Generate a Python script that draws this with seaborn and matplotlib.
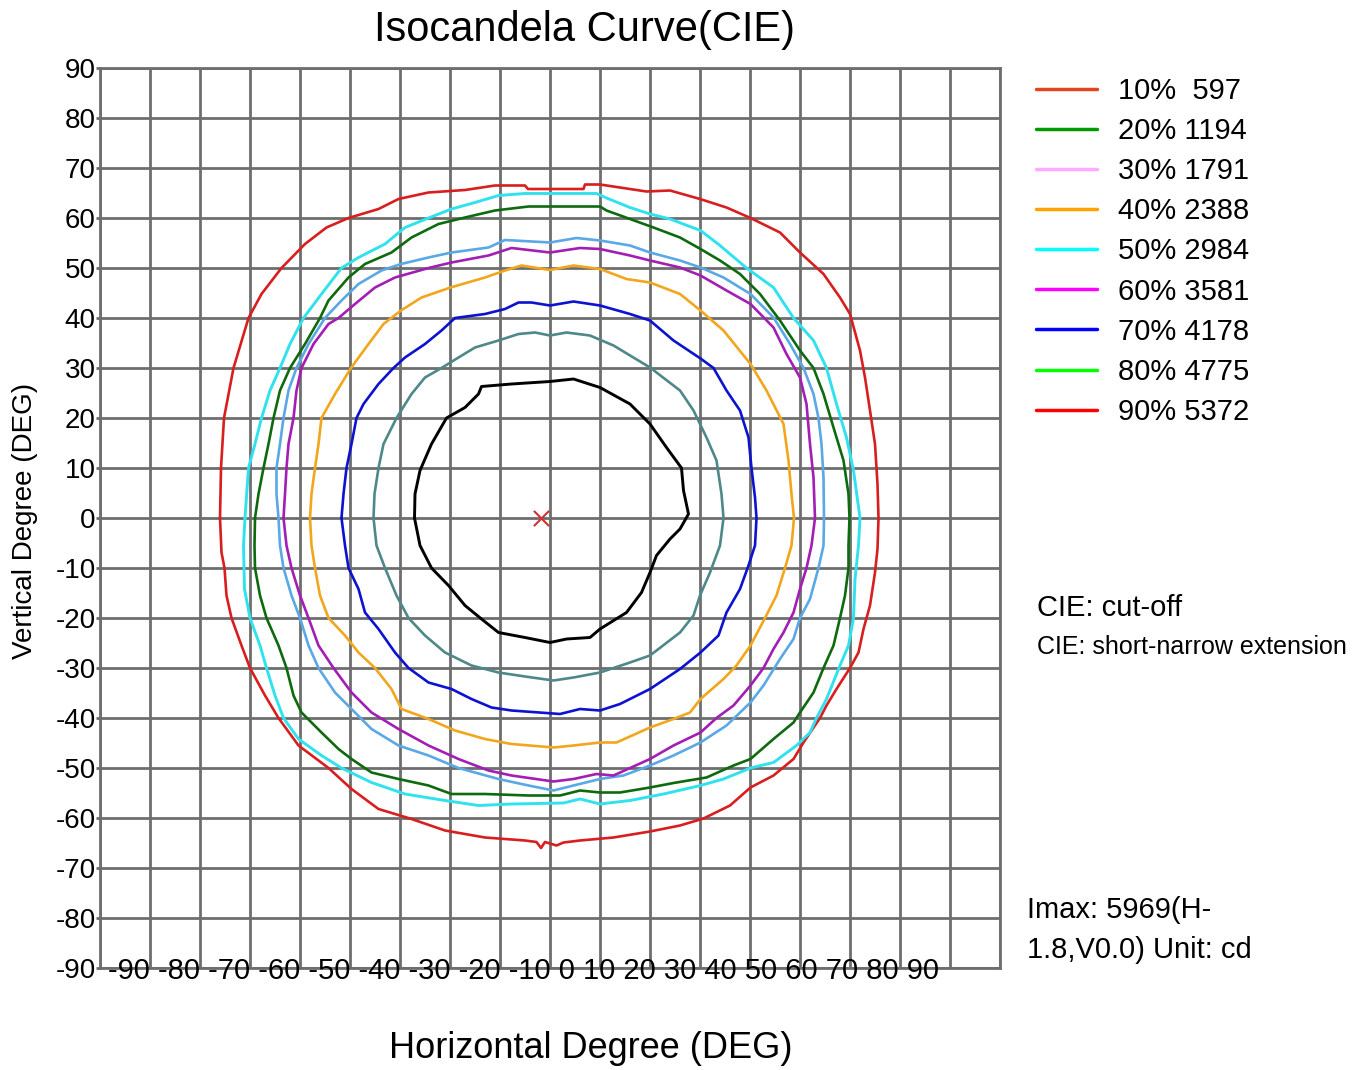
import numpy as np
import seaborn as sns
import matplotlib.pyplot as plt
from matplotlib.lines import Line2D

# --- data (degrees), traced clockwise from the left side ---
red_x = [-66, -65.8, -65.2, -63.3, -60.3, -57.7, -53.7, -49, -44.7, -40.3, -34.3, -30.3, -24.3, -17, -11, -5, -4.4,
         0, 6.7, 7, 10, 19.3, 24, 30, 35.3, 40.1, 46, 50, 54.7, 58, 60, 62, 63, 64, 65, 65.5, 65.7,
         65.5, 65, 64, 62.7, 61.7, 60, 57.3, 55.3, 54, 50.7, 48.7, 44.7, 40.1, 36, 30.7, 26, 20, 12.7, 6, 2.7, 1.3,
         -1, -1.8, -2.7, -5, -13, -21, -27.7, -34.3, -39.7, -44.3, -50.3, -54.3, -57, -60, -61.7, -63.7, -64.7,
         -65.1, -65.7]
red_y = [0, 10, 20, 30, 40, 44.8, 50, 54.8, 58.1, 60, 61.8, 63.8, 65.1, 65.6, 66.5, 66.5, 65.8,
         65.8, 65.8, 66.7, 66.7, 65.3, 65.5, 63.8, 62.1, 60, 57.1, 53.1, 48.8, 44.1, 40.8, 33.5, 28.1, 21.5, 14.8,
         6.8, 0,
         -6.2, -10.9, -17.5, -22.2, -26.9, -30, -34.2, -37.5, -40, -44.9, -48.2, -51.5, -53.9, -57.5, -60.1, -61.5,
         -62.7, -63.9, -64.5, -64.9, -65.5,
         -64.8, -66, -64.8, -64.5, -63.9, -62.5, -60.2, -58.2, -54.2, -50, -45.5, -40, -35.5, -30, -25.5, -20,
         -15.5, -10, -6.9]

cyan_x = [-61, -60.3, -59, -57.7, -56, -54, -52, -49.3, -45.7, -41.7, -38.3, -33, -29, -24.3, -19.7, -15, -10.3, -5,
          0, 9.3, 11.3, 16, 20, 24, 30.1, 34, 39.3, 44.7, 48.7, 52.7, 55.3, 57.3, 59.3, 60.7, 62,
          61.7, 61, 60.7, 59.7, 58, 55.3, 53.3, 52, 49.3, 44.7, 40.1, 34.7, 30.1, 22.7, 16, 10, 6, 2.7,
          -7.7, -14.3, -21, -29, -35.7, -41.7, -45.7, -50.3, -53.3, -55, -56.7, -58, -60, -61.1, -61.3]
cyan_y = [0, 10, 14.8, 20, 25.5, 30, 34.8, 40, 44.8, 50, 52.1, 54.8, 58.1, 60, 61.8, 63.1, 64.5, 64.9,
          64.9, 64.9, 64, 62.1, 60.8, 59.8, 57.5, 54.5, 50, 46.1, 40, 35.5, 30, 22.8, 16.1, 9.5, 0,
          -5.5, -12.2, -20, -25.5, -29.5, -36.2, -40, -42.9, -45.5, -48.9, -50, -52.2, -53.5, -55.2, -56.5, -57.2,
          -56.2, -57,
          -57.2, -57.5, -56.5, -55.2, -52.9, -50, -47.5, -44.2, -40, -35.5, -30, -25.5, -20, -14.2, -5.5]

green_x = [-59, -58.3, -57.3, -56.3, -55.3, -54, -52, -49, -46, -44.3, -40.3, -37, -31.7, -27.7, -22.3, -17, -11, -4.3,
           0, 10, 11.3, 16, 20.7, 26, 30.1, 34, 38, 42, 46, 50, 52.7, 54.7, 56.7, 58.7, 59.7, 59.9,
           59.7, 59.7, 59, 58, 56.7, 54.7, 52.7, 50, 48.7, 44.7, 40.1, 36.7, 31.3, 24.7, 20, 14, 10, 6, 2,
           -4.3, -13, -19.7, -24.3, -30.3, -35.7, -39.7, -42.3, -45.7, -49.7, -51.3, -52.7, -54.3, -56.7, -58, -59,
           -59.1]
green_y = [0, 4.8, 10, 14.8, 20, 25.5, 30, 34.8, 40, 43.5, 48.1, 50.8, 53.1, 56.1, 58.8, 60.1, 61.5, 62.3,
           62.3, 62.3, 61.5, 59.8, 58.1, 56.1, 53.8, 51.5, 48.8, 44.8, 39.5, 33.5, 30, 24.8, 18.1, 11.5, 4.8, 0,
           -5.5, -10, -15.5, -20, -25.5, -30, -34.9, -38.9, -40.9, -44.2, -48.2, -49.5, -51.9, -53, -53.9, -54.9,
           -54.9, -54.5, -55.5,
           -55.5, -55.2, -55.2, -53.5, -52.2, -50.9, -48.2, -46.2, -42.9, -38.9, -35.5, -30, -25.5, -20, -15.5, -10,
           -5.5]

steel_x = [-54.3, -54.7, -54.7, -54, -53.3, -52.3, -50.7, -48.3, -45, -41.7, -38.3, -33.7, -29.8, -24.3, -19.7, -12.3,
           -9, 0, 5.3, 10, 16, 20, 26, 30.1, 34.7, 40.1, 44.7, 48, 50.7, 52.7, 53.7, 54.3, 54.7, 54.8,
           54.7, 53.7, 52, 50, 48.7, 46, 42.7, 40.1, 35.3, 30.1, 24.7, 20, 14.7, 10, 4.7, 0.7,
           -4.3, -10.3, -18.3, -24.3, -30.3, -35.7, -39, -43, -46.3, -48.3, -50, -51.7, -53.3, -54]
steel_y = [0, 4.8, 10, 14.8, 20, 25.5, 30, 34.8, 40, 43.5, 46.8, 49.5, 50.8, 52.1, 53.1, 54.1,
           55.6, 55.1, 56, 55.5, 54.5, 53.1, 51.5, 50.1, 48.1, 44.8, 40.1, 34.8, 30, 24.8, 20, 14.8, 8.1, 0,
           -5.5, -10, -16.2, -20, -24.2, -28.2, -33.5, -36.9, -41.5, -44.9, -47.5, -49.5, -51.5, -52.2, -53.5, -54.5,
           -53.5, -52.2, -50, -47.5, -45.5, -42.2, -38.9, -34.9, -30, -25.5, -20, -15.5, -10, -5.5]

purple_x = [-53.3, -53, -52.7, -52.3, -51.3, -50.7, -49.7, -47.3, -44.3, -42.3, -39, -35, -31, -24.3, -19.7, -12.3,
            -7.7, 0, 6, 10, 16, 20, 26, 30.1, 35.3, 40.1, 44.7, 47.3, 50, 51.3, 52, 52.7, 53,
            52.3, 51.3, 50, 48.7, 46.7, 44.7, 42.7, 40.1, 36.7, 33.3, 30.1, 24.7, 20, 12.7, 9.3, 4.7, 0.7,
            -7.7, -12.3, -18.3, -24.3, -30.3, -35.7, -39.7, -43.3, -46.3, -48.3, -50, -51.7, -52.7]
purple_y = [0, 4.8, 10, 14.8, 20, 25.5, 30, 34.8, 38.8, 40, 42.8, 46.1, 48.1, 50, 51.1, 52.5,
            54, 53.1, 54, 53.8, 52.5, 51.5, 50.1, 48.5, 45.5, 42.8, 38.1, 32.8, 28.1, 22.8, 14.8, 8.1, 0,
            -5.5, -10, -14.2, -18.9, -22.9, -26.2, -30, -33.5, -37.5, -40, -42.9, -45.5, -48.2, -51.5, -51.2, -52.2,
            -52.7,
            -51.5, -50.5, -48.2, -45.5, -42.2, -38.9, -34.9, -30, -25.5, -20, -15.5, -10, -5.5]

orange_x = [-48, -47.7, -47, -46.3, -45.7, -43, -39.8, -36.3, -33.3, -29.8, -25.7, -19.9, -13, -9, -5.7,
            0, 4.7, 10, 15.3, 20, 26, 30.1, 34.7, 40.1, 43.3, 46.7, 47.7, 48.3, 48.8,
            48.3, 47, 45.3, 43, 40.1, 37.3, 34.7, 30.1, 28, 24.7, 20, 13.3, 10, 4.7, 0.7,
            -7.7, -13, -19, -24.3, -29.7, -31.7, -35, -38.3, -41, -44.3, -46, -47, -47.7]
orange_y = [0, 4.8, 10, 14.8, 20, 24.8, 30, 34.8, 38.8, 41.5, 44.1, 46.1, 48.1, 49.5, 50.5,
            49.6, 50.5, 49.8, 47.8, 47.1, 44.8, 41.5, 37.5, 30.8, 25.5, 18.8, 11.5, 4.8, 0,
            -5.5, -10, -15.5, -20, -25.5, -29.5, -32.2, -36.2, -38.9, -40.2, -41.9, -44.9, -44.9, -45.5, -45.9,
            -45.2, -44.2, -42.5, -40.2, -38.2, -34.2, -30, -26.9, -23.5, -20, -15.5, -10, -5.5]

blue_x = [-41.7, -41.3, -40.7, -39.7, -38.7, -37.3, -34.3, -31.3, -29, -25, -21.7, -19, -13, -9, -6.3, -3.7,
          0, 4.7, 10, 16, 20, 24.7, 30.1, 32.7, 35.3, 38, 39.7, 40.3, 41, 41.3,
          41, 39.7, 38, 35.3, 33.7, 30.1, 26, 20, 14, 10, 6, 2,
          -7.7, -11.7, -15.7, -19.7, -24.3, -28.3, -31, -34.3, -37, -38.3, -40.3, -41]
blue_y = [0, 4.8, 10, 14.8, 20, 22.8, 26.8, 30, 32.1, 34.8, 37.5, 40, 40.8, 41.8, 43.1, 43.1,
          42.5, 43.3, 42.5, 40.8, 39.5, 35.5, 31.9, 30, 25.5, 21.5, 16.1, 10, 4.1, 0,
          -5.5, -9.5, -14.2, -18.9, -23.5, -26.9, -30.2, -34.2, -37.2, -38.5, -38.2, -39.2,
          -38.5, -37.9, -36.2, -34.2, -32.9, -30, -26.9, -22.2, -18.9, -14.2, -10, -5.5]

teal_x = [-35.3, -35.1, -34.3, -33.3, -30.7, -27.7, -25, -21.7, -18.3, -15, -10.3, -6.3, -3,
          0, 3.3, 8, 12.7, 20, 26, 28.7, 31.3, 33.3, 34.3, 34.7,
          34, 32, 30, 28.7, 26, 20, 16, 10, 4.7, 0.7,
          -5, -10.3, -15.7, -21, -25, -28.3, -30.7, -33, -34.7]
teal_y = [0, 4.8, 10, 14.8, 20, 24.8, 28.1, 30, 32.1, 34.1, 35.5, 36.8, 37.1,
          36.5, 37.1, 36.5, 34.5, 30.1, 25.5, 21.5, 16.1, 11.5, 4.8, 0,
          -5.5, -10.9, -15.5, -19.5, -22.9, -27.5, -28.9, -30.9, -31.9, -32.5,
          -31.7, -30.9, -29.5, -26.9, -23.5, -20, -15.5, -10, -5.5]

black_x = [-27.1, -27, -26, -23.7, -20.7, -17, -14.3, -13.7, -7.7,
           0, 4.7, 10, 16, 20, 23.3, 26.3, 26.7, 27.7,
           26, 24, 21.3, 20, 18.3, 15.3, 10, 8, 3.3, 0,
           -5, -10.3, -13.7, -17, -20.3, -23.7, -26]
black_y = [0, 4.8, 9.5, 14.8, 20, 22.1, 24.8, 26.3, 26.8,
           27.3, 27.8, 26.1, 22.8, 18.8, 14.1, 10, 5.5, 0.8,
           -2.2, -4.2, -7.5, -10.9, -14.9, -18.9, -22.2, -23.9, -24.2, -24.9,
           -23.9, -22.9, -20.2, -17.5, -13.5, -10, -5.5]

# maximum intensity point
imax_h = [-1.8]
imax_v = [0.0]

legend_labels = ['10%  597', '20% 1194', '30% 1791', '40% 2388', '50% 2984',
                 '60% 3581', '70% 4178', '80% 4775', '90% 5372']
legend_colors = ['#e2461c', '#009a00', '#ffaaff', '#ffa200', '#00ffff',
                 '#ff00ff', '#0000ff', '#00ff00', '#ff0000']

x_tick_labels = [str(v) for v in range(-90, 100, 10)]
y_ticks = list(range(-90, 100, 10))

curves = [
    (red_x, red_y, '#d81e1e', 1.9),
    (cyan_x, cyan_y, '#30e2ee', 2.1),
    (green_x, green_y, '#0e6a0e', 1.9),
    (steel_x, steel_y, '#5aa8e6', 1.9),
    (purple_x, purple_y, '#a21eb4', 1.9),
    (orange_x, orange_y, '#f2a61e', 1.9),
    (blue_x, blue_y, '#0c12d0', 1.9),
    (teal_x, teal_y, '#4e8888', 1.9),
    (black_x, black_y, '#000000', 2.1),
]

sns.set_theme(style='white')
plt.rcParams['font.family'] = ['Liberation Sans', 'DejaVu Sans']
plt.rcParams['text.color'] = 'black'
plt.rcParams['axes.labelcolor'] = 'black'
plt.rcParams['ytick.color'] = 'black'
plt.rcParams['xtick.color'] = 'black'

W, H = 1367, 1070
fig = plt.figure(figsize=(W / 100, H / 100), dpi=100)
ax = fig.add_axes([100 / W, 102 / H, 900 / W, 900 / H])

grid_col = '#6e6e6e'
ax.set_xlim(-90, 90)
ax.set_ylim(-90, 90)
ax.set_xticks(y_ticks)
ax.set_yticks(y_ticks)
ax.set_xticklabels([])
ax.set_yticklabels([str(v) for v in y_ticks], fontsize=20, color='black')
ax.tick_params(axis='x', length=0)
ax.tick_params(axis='y', length=3, width=2, color=grid_col, pad=0, left=True,
               labelcolor='black')
ax.grid(True, color=grid_col, linewidth=2)
ax.set_axisbelow(True)
for sp in ax.spines.values():
    sp.set_color(grid_col)
    sp.set_linewidth(2)

# contour lines (closed paths)
for xs, ys, col, lw in curves:
    xs = list(xs) + [xs[0]]
    ys = list(ys) + [ys[0]]
    sns.lineplot(x=xs, y=ys, sort=False, estimator=None, color=col,
                 linewidth=lw, ax=ax, legend=False)

sns.scatterplot(x=imax_h, y=imax_v, marker='x', color='#d03030', s=120,
                linewidth=1.5, ax=ax, legend=False, zorder=5)
ax.set_xlabel('')
ax.set_ylabel('')

# the odd packed x labels of the original
ax.text(0.009, -0.012, ' '.join(x_tick_labels), transform=ax.transAxes,
        fontsize=21, ha='left', va='baseline', color='black')

fig.text(585 / W, 1 - 30 / H, 'Isocandela Curve(CIE)', fontsize=30,
         ha='center', va='center')
fig.text(591 / W, 1 - 1049 / H, 'Horizontal Degree (DEG)', fontsize=26,
         ha='center', va='center')
fig.text(25 / W, 1 - 521 / H, 'Vertical Degree (DEG)', fontsize=20,
         rotation=90, ha='center', va='center')

handles = [Line2D([0], [0], color=c, lw=2.5) for c in legend_colors]
fig.legend(handles, legend_labels, loc='upper left',
           bbox_to_anchor=(1036 / W, 1 - 77 / H), frameon=False, fontsize=21,
           handlelength=2.1, handletextpad=0.7, labelspacing=0.415,
           borderpad=0, borderaxespad=0)

fig.text(1037 / W, 1 - 608 / H, 'CIE: cut-off', fontsize=21, va='center')
fig.text(1037 / W, 1 - 647 / H, 'CIE: short-narrow extension', fontsize=18,
         va='center')
fig.text(1027 / W, 1 - 930 / H, 'Imax: 5969(H-\n1.8,V0.0) Unit: cd',
         fontsize=21, va='center', linespacing=1.58)

fig.savefig('out.png', dpi=100)
